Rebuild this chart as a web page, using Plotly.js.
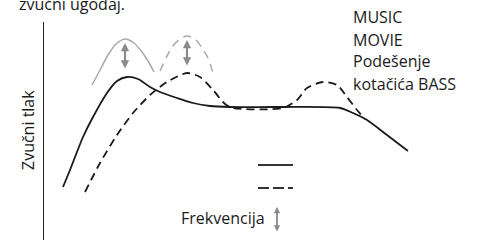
<!DOCTYPE html>
<html>
<head>
<meta charset="utf-8">
<script src="https://cdn.plot.ly/plotly-3.0.1.min.js"></script>
<style>html,body{margin:0;padding:0;background:#fff;}#chart{width:480px;height:240px;}</style>
</head>
<body>
<div id="chart"></div>
<script>
// Frequency (arbitrary units) and sound pressure (arbitrary units)
const musicFreq = [19, 26, 39, 49, 63, 73, 83, 94, 106, 116, 133, 149, 166, 186, 236, 296, 309, 323, 343, 364];
const musicLevel = [53, 70, 103, 123, 147, 159, 163, 161, 153, 148, 142, 137, 134, 133, 133, 132, 127, 120, 105, 89];

const movieFreq = [41, 56, 73, 89, 106, 123, 143, 156, 169, 181, 189, 239, 253, 263, 279, 293, 303, 313, 321];
const movieLevel = [48, 77, 105, 127, 145, 158, 167, 163, 150, 136, 132, 132, 140, 152, 158, 155, 143, 130, 121];

const musicBassFreq = [48, 56, 64, 72, 81, 90, 98, 104, 110];
const musicBassLevel = [155, 170, 185, 196, 201, 197, 188, 179, 168];

const movieBassFreq = [116, 122, 128, 136, 143, 151, 158, 164, 169];
const movieBassLevel = [169, 182, 193, 201, 204, 201, 192, 182, 167];

// Bass-knob adjustment arrows: [frequency, low level, high level]
const bassArrows = [[81, 170, 197], [143, 173, 200]];

const legendLabels = ["MUSIC", "MOVIE", "Podešenje", "kotačića BASS"];
const topText = "zvučni ugođaj.";
const yLabel = "Zvučni tlak";
const xLabel = "Frekvencija";

const FONT = "Open Sans, Noto Sans, sans-serif";
const ink = "#1a1a1a";
const grey = "#aaaaaa";
const arrowGrey = "#8a8a8a";

const traces = [
  {x: musicBassFreq, y: musicBassLevel, mode: "lines", line: {color: grey, width: 1.5, shape: "spline", smoothing: 0.8}, hoverinfo: "skip"},
  {x: movieBassFreq, y: movieBassLevel, mode: "lines", line: {color: grey, width: 1.5, shape: "spline", smoothing: 0.8, dash: "8px,6px"}, hoverinfo: "skip"},
  {x: musicFreq, y: musicLevel, mode: "lines", line: {color: ink, width: 1.8, shape: "spline", smoothing: 0.7}, hoverinfo: "skip"},
  {x: movieFreq, y: movieLevel, mode: "lines", line: {color: ink, width: 1.8, shape: "spline", smoothing: 0.7, dash: "8px,5px"}, hoverinfo: "skip"}
];

const annotations = [];
bassArrows.forEach(a => {
  annotations.push({x: a[0], y: a[2], ax: a[0], ay: a[1], xref: "x", yref: "y", axref: "x", ayref: "y",
    text: "", showarrow: true, arrowhead: 2, startarrowhead: 2, arrowside: "end+start",
    arrowsize: 0.75, startarrowsize: 0.75, arrowwidth: 2.2, arrowcolor: arrowGrey, standoff: 0, startstandoff: 0});
});
// paper helpers (pixel -> paper)
const px = v => (v - 44) / 436;
const py = v => (240 - v) / 218;
annotations.push({text: topText, xref: "paper", yref: "paper", x: px(17), y: py(4), xanchor: "left", yanchor: "middle", showarrow: false, font: {family: FONT, size: 16, color: ink}});
const lineY = [16.5, 39.5, 61.5, 83.5];
legendLabels.forEach((t, i) => {
  annotations.push({text: t, xref: "paper", yref: "paper", x: px(351), y: py(lineY[i]), xanchor: "left", yanchor: "middle", showarrow: false, font: {family: FONT, size: 16, color: ink}});
});
annotations.push({text: xLabel, xref: "paper", yref: "paper", x: px(179), y: py(218), xanchor: "left", yanchor: "middle", showarrow: false, font: {family: FONT, size: 16, color: ink}});
annotations.push({text: yLabel, xref: "paper", yref: "paper", x: px(28), y: py(130), xanchor: "center", yanchor: "middle", textangle: -90, showarrow: false, font: {family: FONT, size: 16, color: ink}});
// frequency arrow next to the label
annotations.push({x: px(277), y: py(207), ax: px(277), ay: py(233), xref: "paper", yref: "paper", axref: "paper", ayref: "paper",
  text: "", showarrow: true, arrowhead: 2, startarrowhead: 2, arrowside: "end+start", arrowsize: 0.7, startarrowsize: 0.7,
  arrowwidth: 1.8, arrowcolor: arrowGrey, standoff: 0, startstandoff: 0});

const shapes = [
  {type: "line", xref: "paper", yref: "paper", x0: px(258), x1: px(293), y0: py(165), y1: py(165), line: {color: "#333", width: 2}},
  {type: "line", xref: "paper", yref: "paper", x0: px(258), x1: px(293), y0: py(188), y1: py(188), line: {color: "#333", width: 2, dash: "11px,4px"}}
];

const layout = {
  width: 480, height: 240,
  margin: {l: 44, r: 0, t: 22, b: 0, pad: 0},
  paper_bgcolor: "#fff", plot_bgcolor: "#fff",
  showlegend: false,
  xaxis: {range: [0, 436], visible: false, fixedrange: true},
  yaxis: {range: [0, 218], showline: true, linecolor: "#222", linewidth: 1, showgrid: false, zeroline: false, showticklabels: false, ticks: "", fixedrange: true},
  annotations: annotations,
  shapes: shapes,
  font: {family: FONT, color: ink}
};

Plotly.newPlot("chart", traces, layout, {staticPlot: true, displayModeBar: false});
</script>
</body>
</html>
